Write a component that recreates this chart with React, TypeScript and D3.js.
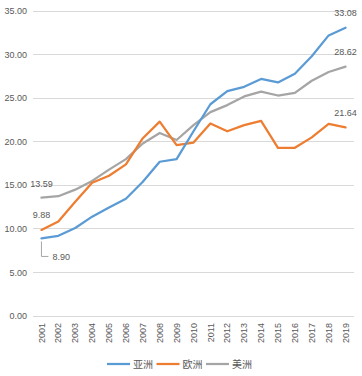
import React, { useEffect, useRef } from 'react';
import * as d3 from 'd3';

const years = ['2001', '2002', '2003', '2004', '2005', '2006', '2007', '2008', '2009', '2010',
  '2011', '2012', '2013', '2014', '2015', '2016', '2017', '2018', '2019'];

const asia = [8.9, 9.2, 10.1, 11.4, 12.45, 13.45, 15.4, 17.7, 18.0, 21.2,
  24.3, 25.8, 26.3, 27.2, 26.8, 27.8, 29.8, 32.2, 33.08];
const europe = [9.88, 10.85, 13.1, 15.3, 16.1, 17.4, 20.4, 22.3, 19.6, 19.9,
  22.1, 21.2, 21.9, 22.4, 19.3, 19.3, 20.5, 22.05, 21.64];
const americas = [13.59, 13.75, 14.5, 15.5, 16.8, 18.0, 19.8, 21.0, 20.2, 21.9,
  23.4, 24.2, 25.2, 25.75, 25.3, 25.6, 27.0, 28.0, 28.62];

const seriesNames = ['亚洲', '欧洲', '美洲'];
const yTicks = [0, 5, 10, 15, 20, 25, 30, 35];

const colors = ['#5B9BD5', '#ED7D31', '#A5A5A5'];
const textColor = '#595959';
const font = '"Liberation Sans", Arial, sans-serif';

const App = () => {
  const ref = useRef<SVGSVGElement>(null);

  useEffect(() => {
    const svg = d3.select(ref.current);
    svg.selectAll('*').remove();

    const width = 362;
    const left = 33, right = 354, top = 11, bottom = 316;

    const x = d3.scalePoint<string>().domain(years).range([left, right]).padding(0.5);
    const y = d3.scaleLinear().domain([0, 35]).range([bottom, top]);

    // grid + y labels
    const grid = svg.append('g');
    yTicks.forEach(t => {
      grid.append('line')
        .attr('x1', left).attr('x2', right)
        .attr('y1', y(t)).attr('y2', y(t))
        .attr('stroke', '#d9d9d9').attr('stroke-width', 1)
        .style('shape-rendering', 'crispEdges');
      grid.append('text')
        .attr('x', 27).attr('y', y(t))
        .attr('text-anchor', 'end').attr('dy', '0.35em')
        .attr('fill', textColor).style('font-size', '9px').style('font-family', font)
        .text(t.toFixed(2));
    });

    // x labels, rotated
    years.forEach(yr => {
      svg.append('text')
        .attr('transform', `translate(${x(yr)},${bottom + 7}) rotate(-90)`)
        .attr('text-anchor', 'end').attr('dy', '0.35em')
        .attr('fill', textColor).style('font-size', '9px').style('font-family', font)
        .text(yr);
    });

    const all = [asia, europe, americas];
    const line = d3.line<number>()
      .x((_, i) => x(years[i]) as number)
      .y(d => y(d));

    // americas behind, then europe, asia on top
    [2, 1, 0].forEach(si => {
      svg.append('path')
        .datum(all[si])
        .attr('d', line)
        .attr('fill', 'none')
        .attr('stroke', colors[si])
        .attr('stroke-width', 2.25)
        .attr('stroke-linejoin', 'round')
        .attr('stroke-linecap', 'round');
    });

    const label = (xx: number, yy: number, txt: string, anchor = 'middle') =>
      svg.append('text')
        .attr('x', xx).attr('y', yy)
        .attr('text-anchor', anchor).attr('dy', '0.35em')
        .attr('fill', textColor).style('font-size', '9px').style('font-family', font)
        .text(txt);

    const last = years.length - 1;
    const xFirst = x(years[0]) as number;
    const xLast = x(years[last]) as number;

    // end labels above points
    all.forEach(s => label(xLast, y(s[last]) - 15, s[last].toFixed(2)));
    // first labels
    label(xFirst, y(americas[0]) - 14, americas[0].toFixed(2));
    label(xFirst, y(europe[0]) - 15, europe[0].toFixed(2));

    // asia first label with leader line
    const ay = y(asia[0]);
    svg.append('path')
      .attr('d', `M${xFirst},${ay + 3}V${ay + 18}H${xFirst + 7}`)
      .attr('fill', 'none').attr('stroke', '#a6a6a6').attr('stroke-width', 1);
    label(xFirst + 11, ay + 18, asia[0].toFixed(2), 'start');

    // legend
    const legY = 364;
    let lx = width / 2 - 74;
    seriesNames.forEach((n, i) => {
      svg.append('line')
        .attr('x1', lx).attr('x2', lx + 23)
        .attr('y1', legY).attr('y2', legY)
        .attr('stroke', colors[i]).attr('stroke-width', 2.25);
      svg.append('text')
        .attr('x', lx + 26).attr('y', legY).attr('dy', '0.35em')
        .attr('fill', textColor).style('font-size', '10px')
        .style('font-family', '"Noto Sans CJK SC", sans-serif')
        .text(n);
      lx += 49.5;
    });
  }, []);

  return (
    <svg ref={ref} width={362} height={376}
      style={{ position: 'absolute', left: 0, top: 0, background: '#fff' }} />
  );
};

export default App;
